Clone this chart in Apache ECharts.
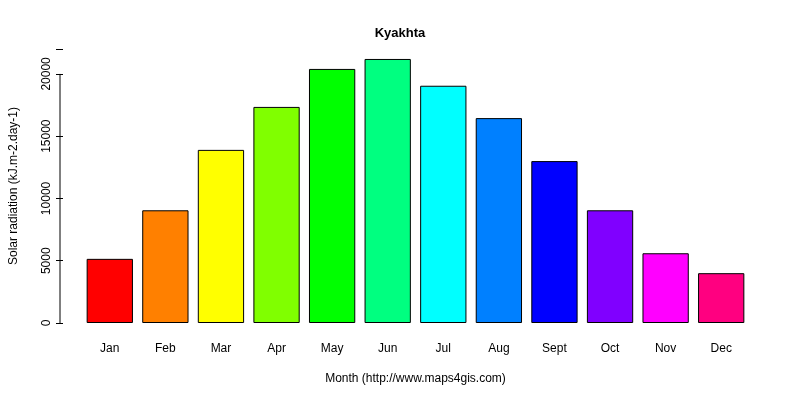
<!DOCTYPE html>
<html><head><meta charset="utf-8">
<script src="https://cdn.jsdelivr.net/npm/echarts@6/dist/echarts.min.js"></script>
<style>html,body{margin:0;background:#fff}#c{width:800px;height:400px}</style>
</head><body><div id="c"></div>
<script>
const months = ["Jan","Feb","Mar","Apr","May","Jun","Jul","Aug","Sept","Oct","Nov","Dec"];
const radiation = [5150,9050,13900,17350,20400,21200,19050,16450,13000,9050,5600,4000];
const barColors = ["#FF0000","#FF8000","#FFFF00","#80FF00","#00FF00","#00FF80","#00FFFF","#0080FF","#0000FF","#8000FF","#FF00FF","#FF0080"];
const yTicks = [0,5000,10000,15000,20000];
const chart = echarts.init(document.getElementById('c'));
const f = 'Liberation Sans, Arial, sans-serif';
chart.setOption({
  animation:false,
  title:{text:'Kyakhta',left:'center',top:22,textStyle:{fontFamily:f,fontSize:13,fontWeight:'bold',color:'#000'}},
  grid:{left:79,right:51,top:49,bottom:77},
  xAxis:{type:'category',data:months,axisLine:{show:false},axisTick:{show:false},
    axisLabel:{fontFamily:f,fontSize:12,color:'#000',margin:20},
    name:'Month (http://www.maps4gis.com)',nameLocation:'middle',nameGap:50,
    nameTextStyle:{fontFamily:f,fontSize:12,color:'#000'}},
  yAxis:{type:'value',min:0,max:22000,interval:5000,offset:19,splitLine:{show:false},
    axisLine:{show:false},axisTick:{show:true,length:7,lineStyle:{color:'#000'}},
    axisLabel:{fontFamily:f,fontSize:12,color:'#000',rotate:90,margin:10,
      formatter:v=>yTicks.includes(v)?String(v):''},
    name:'Solar radiation (kJ.m-2.day-1)',nameLocation:'middle',nameGap:43,
    nameTextStyle:{fontFamily:f,fontSize:12,color:'#000'}},
  series:[{type:'bar',barCategoryGap:'16.7%',
    data:radiation.map((v,i)=>({value:v,itemStyle:{color:barColors[i]}})),
    itemStyle:{borderColor:'#000',borderWidth:1}}]
});
const p0 = chart.convertToPixel({yAxisIndex:0},0);
const p1 = chart.convertToPixel({yAxisIndex:0},20000);
chart.setOption({graphic:[{type:'line',shape:{x1:60,y1:p0,x2:60,y2:p1},style:{stroke:'#000',lineWidth:1}}]});
</script></body></html>
